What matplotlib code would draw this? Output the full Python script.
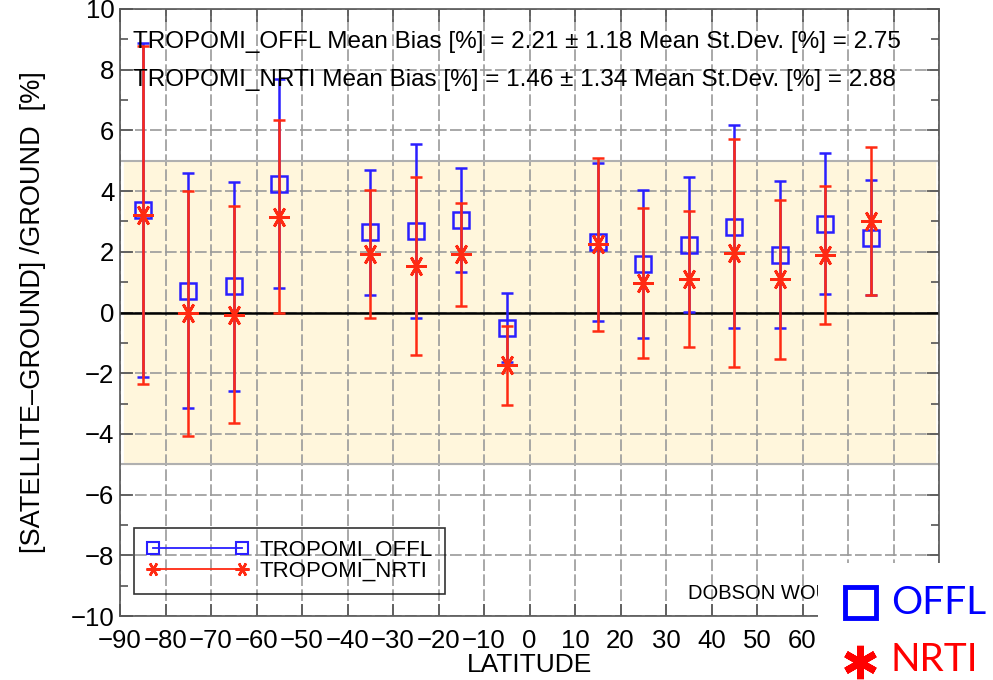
import matplotlib
matplotlib.use("Agg")
import matplotlib.pyplot as plt
from matplotlib.patches import Rectangle
from matplotlib.lines import Line2D
import numpy as np

plt.rcParams['font.family'] = ['Liberation Sans', 'DejaVu Sans']

# latitude bands (centres)
lat = [-85, -75, -65, -55, -35, -25, -15, -5, 15, 25, 35, 45, 55, 65, 75]

# TROPOMI_OFFL mean bias and st.dev. [%]
offl_mean = [3.38, 0.71, 0.86, 4.25, 2.64, 2.68, 3.06, -0.50, 2.33, 1.60, 2.24, 2.83, 1.91, 2.92, 2.47]
offl_std = [5.49, 3.87, 3.45, 3.44, 2.06, 2.87, 1.71, 1.13, 2.60, 2.44, 2.23, 3.34, 2.42, 2.32, 1.90]

# TROPOMI_NRTI mean bias and st.dev. [%]
nrti_mean = [3.21, -0.03, -0.07, 3.16, 1.93, 1.54, 1.92, -1.74, 2.25, 0.97, 1.11, 1.97, 1.10, 1.90, 3.01]
nrti_std = [5.58, 4.04, 3.58, 3.19, 2.10, 2.94, 1.70, 1.31, 2.85, 2.46, 2.25, 3.75, 2.62, 2.28, 2.44]

stats_offl = "TROPOMI_OFFL Mean Bias [%] = 2.21 \u00b1 1.18 Mean St.Dev. [%] = 2.75"
stats_nrti = "TROPOMI_NRTI Mean Bias [%] = 1.46 \u00b1 1.34 Mean St.Dev. [%] = 2.88"

# x tick labels (70..90 sit under the pasted key)
xticks = list(range(-90, 91, 10))
xticklabels = [("\u2212%d" % -t if t < 0 else str(t)) if t <= 60 else "" for t in xticks]

blue = "#2a1fff"
red = "#ff2a12"

fig = plt.figure(figsize=(9.93, 6.8), dpi=100)
ax = fig.add_axes([120 / 993, 64 / 680, 819 / 993, 607 / 680])

ax.set_xlim(-90, 90)
ax.set_ylim(-10, 10)

# +-5 % band
ax.axhspan(-5, 5, xmin=0.005, xmax=0.995, color="#fff6dc", zorder=0)
ax.axhline(5, color="#b0b0b0", lw=1.5, zorder=1)
ax.axhline(-5, color="#b0b0b0", lw=1.5, zorder=1)

ax.set_xticks(xticks)
ax.set_xticklabels(xticklabels)
ax.set_yticks(np.arange(-10, 11, 2))
ax.set_yticks(np.arange(-9, 10, 2), minor=True)
ax.grid(True, which="major", color="#9a9a9a", lw=1.2, linestyle=(0, (7, 2)), zorder=1)
ax.set_axisbelow(True)

ax.axhline(0, color="black", lw=1.8, zorder=2)

ax.errorbar(lat, offl_mean, yerr=offl_std, fmt="s", ms=12, mfc="none", mec=blue, mew=1.8,
            ecolor=blue, elinewidth=1.8, capsize=4, capthick=1.8, color=blue, zorder=3)
ax.errorbar(lat, nrti_mean, yerr=nrti_std, fmt="none",
            ecolor=red, elinewidth=1.8, capsize=4, capthick=1.8, zorder=4)
ax.plot(lat, nrti_mean, linestyle="none", marker=(6, 2, 90), ms=15, mec=red, mew=2.0, zorder=5)

ax.tick_params(axis="both", which="both", direction="in", top=True, right=True,
               color="#555555", labelsize=18.5)
ax.tick_params(axis="both", which="major", length=9, width=1.2)
ax.tick_params(axis="y", which="minor", length=6, width=1.2)
ax.tick_params(axis="y", pad=4)
ax.tick_params(axis="x", pad=9)
for s in ax.spines.values():
    s.set_color("#555555")
    s.set_linewidth(1.2)

ax.set_xlabel("LATITUDE", fontsize=19, labelpad=0)
ax.set_ylabel("[SATELLITE\u2013GROUND] /GROUND  [%]", fontsize=19.5, labelpad=18)

ax.text(-87.2, 8.9, stats_offl, fontsize=17.5, va="center", ha="left", zorder=6)
ax.text(-87.2, 7.65, stats_nrti, fontsize=17.5, va="center", ha="left", zorder=6)
ax.text(34.8, -9.25, "DOBSON WOUDC", fontsize=14.5, va="center", ha="left")

h1 = Line2D([], [], color=blue, marker="s", ms=8, mfc="none", mec=blue, mew=1.5, lw=1.3)
h2 = Line2D([], [], color=red, marker=(6, 2, 90), ms=10, mec=red, mew=1.8, lw=1.3)
leg = ax.legend([h1, h2], ["TROPOMI_OFFL", "TROPOMI_NRTI"], numpoints=2, loc="lower left",
                bbox_to_anchor=(14 / 819, 22 / 607), fontsize=16, handlelength=4.6,
                fancybox=False, edgecolor="black", borderpad=0.55,
                labelspacing=0.0, handletextpad=0.5, borderaxespad=0)
leg.get_frame().set_linewidth(1.2)
leg.get_frame().set_facecolor("none")

# pasted-on key in the lower right corner
fig.add_artist(Rectangle((818 / 993, 0), 1 - 818 / 993, 117 / 680, transform=fig.transFigure,
                         facecolor="white", edgecolor="none", zorder=10))
fig.add_artist(Rectangle((845 / 993, 62 / 680), 31 / 993, 31 / 680, transform=fig.transFigure,
                         facecolor="none", edgecolor="#0000ff", lw=3.5, zorder=11))
fig.add_artist(Line2D([860 / 993], [18 / 680], transform=fig.transFigure, marker=(6, 2, 0),
                      ms=24, mec="#ff0000", mew=5, zorder=11))
fig.text(891 / 993, 77 / 680, "OFFL", color="#0000ff", fontsize=28, family="Lato",
         va="center", ha="left", zorder=11)
fig.text(891 / 993, 20 / 680, "NRTI", color="#ff0000", fontsize=28, family="Lato",
         va="center", ha="left", zorder=11)

fig.savefig("out.png", dpi=100)
